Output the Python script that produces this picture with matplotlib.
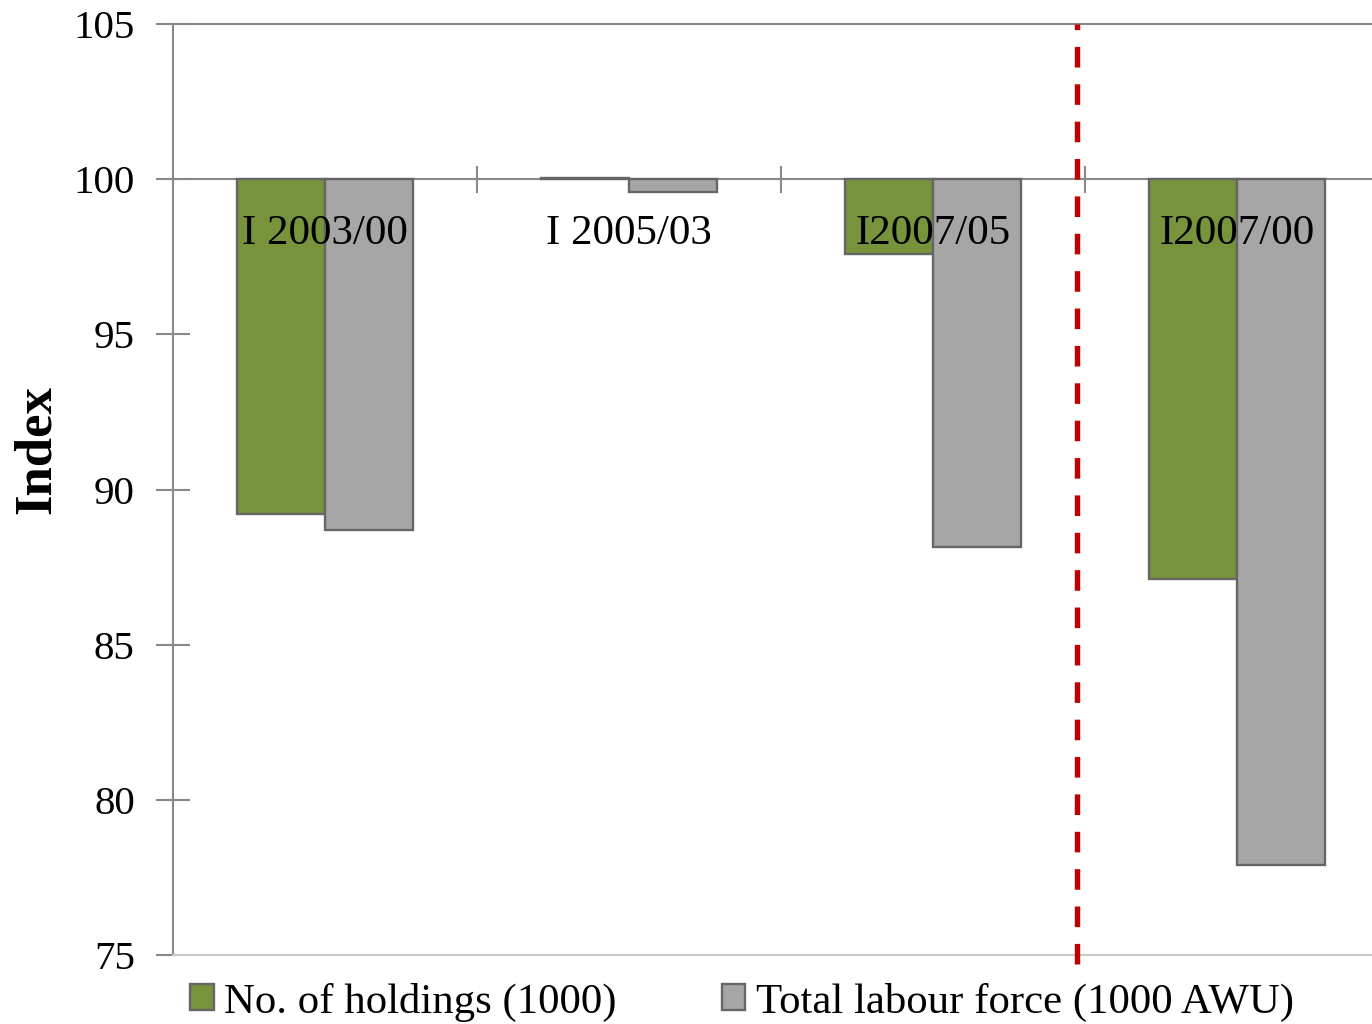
import matplotlib
matplotlib.use("Agg")
import matplotlib.pyplot as plt
import numpy as np

categories = ["I 2003/00", "I 2005/03", "I2007/05", "I2007/00"]
holdings = [89.2, 100.05, 97.6, 87.1]
labour = [88.7, 99.6, 88.15, 77.9]
series_names = ["No. of holdings (1000)", "Total labour force (1000 AWU)"]
yticks = [75, 80, 85, 90, 95, 100, 105]

plt.rcParams['font.family'] = ['Liberation Serif', 'DejaVu Serif']

W, H = 1372, 1024
fig = plt.figure(figsize=(W / 100, H / 100), dpi=100)
ax = fig.add_axes([173 / W, 1 - 955 / H, 1216 / W, 931 / H])

base = 100
x = np.arange(len(categories))
w = 0.288
green = "#77933c"
grey = "#a6a6a6"
edge = "#666666"

ax.bar(x - w / 2, np.array(holdings) - base, w, bottom=base, color=green,
       edgecolor=edge, linewidth=1.7, label=series_names[0], zorder=3)
ax.bar(x + w / 2, np.array(labour) - base, w, bottom=base, color=grey,
       edgecolor=edge, linewidth=1.7, label=series_names[1], zorder=3)

ax.set_xlim(-0.5, len(categories) - 0.5)
ax.set_ylim(75, 105)
ax.set_yticks(yticks)
ax.set_yticklabels([str(v) for v in yticks], fontsize=29.5)
ax.tick_params(axis='y', direction='inout', length=25, width=1.5,
               color="#888888", pad=15)
ax.set_xticks([])

ax.spines['right'].set_visible(False)
ax.spines['left'].set_color("#888888")
ax.spines['left'].set_linewidth(1.5)
ax.spines['top'].set_color("#888888")
ax.spines['top'].set_linewidth(1.5)
ax.spines['bottom'].set_color("#c8c8c8")
ax.spines['bottom'].set_linewidth(1.5)

# category axis at 100
ax.axhline(base, color="#888888", lw=1.5, zorder=2)
for b in np.arange(0.5, len(categories) - 0.5, 1.0):
    ax.plot([b, b], [base - 0.4, base + 0.4], color="#888888", lw=1.5, zorder=2)

# category labels
for xi, lab in zip(x, categories):
    ax.text(xi, 97.9, lab, ha='center', va='baseline', fontsize=31, zorder=5)

# red dashed separator
ax.plot([2.474, 2.474], [74.7, 105], color="#c00000", lw=3.9,
        dashes=(3.8, 3.1), clip_on=False, zorder=6, solid_capstyle='butt',
        dash_capstyle='butt')

fig.text(37 / W, 1 - 450 / H, "Index", rotation=90, ha='center', va='center',
         fontsize=38, fontweight='bold')

fig.legend(loc='center left', bbox_to_anchor=(190 / W, 1 - 1002 / H),
           ncol=2, frameon=False, fontsize=30.8, handlelength=0.55,
           handleheight=0.55, handletextpad=0.25, columnspacing=2.45,
           borderpad=0, borderaxespad=0)

fig.savefig("out.png", dpi=100)
